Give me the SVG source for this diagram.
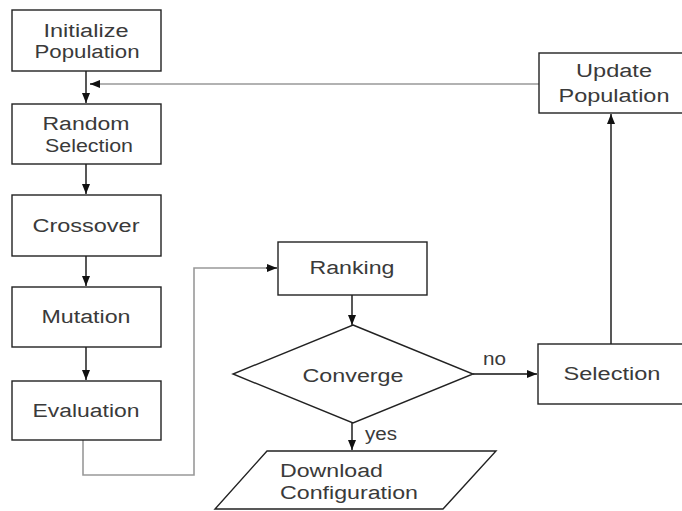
<svg xmlns="http://www.w3.org/2000/svg" width="682" height="511" viewBox="0 0 682 511">
<defs>
<marker id="ah" viewBox="0 0 10 8" refX="10" refY="4" markerWidth="10" markerHeight="8" markerUnits="userSpaceOnUse" orient="auto">
<path d="M0,0 L10,4 L0,8 Z" fill="#111"/>
</marker>
</defs>
<style>
.box{fill:#fff;stroke:#222;stroke-width:1.4}
.t{font-family:"Liberation Sans",Arial,sans-serif;font-size:18px;fill:#3a3a3a;text-anchor:middle}
.tl{font-family:"Liberation Sans",Arial,sans-serif;font-size:18px;fill:#3a3a3a}
.c{fill:none;stroke:#111;stroke-width:1.4}
.g{fill:none;stroke:#999;stroke-width:1.6}
</style>
<rect width="682" height="511" fill="#fff"/>
<g id="connectors">
<line class="c" x1="86" y1="71" x2="86" y2="103" marker-end="url(#ah)"/>
<line class="g" x1="539" y1="84" x2="98" y2="84"/>
<line class="c" x1="100" y1="84" x2="90" y2="84" marker-end="url(#ah)"/>
<line class="c" x1="86" y1="164" x2="86" y2="194" marker-end="url(#ah)"/>
<line class="c" x1="86" y1="256" x2="86" y2="286" marker-end="url(#ah)"/>
<line class="c" x1="86" y1="347" x2="86" y2="380" marker-end="url(#ah)"/>
<polyline class="g" points="83,440 83,475 194,475 194,268 268,268"/>
<line class="c" x1="266" y1="268" x2="277" y2="268" marker-end="url(#ah)"/>
<line class="c" x1="352" y1="295" x2="352" y2="325" marker-end="url(#ah)"/>
<line class="c" x1="473" y1="374" x2="537" y2="374" marker-end="url(#ah)"/>
<line class="c" x1="352" y1="423" x2="352" y2="450" marker-end="url(#ah)"/>
<line class="c" x1="611" y1="344" x2="611" y2="114" marker-end="url(#ah)"/>
<text class="tl" x="483" y="365" textLength="23" lengthAdjust="spacingAndGlyphs">no</text>
<text class="tl" x="365" y="440" textLength="32" lengthAdjust="spacingAndGlyphs">yes</text>
</g>
<g id="init">
<rect class="box" x="12" y="10" width="149" height="61"/>
<text class="t" x="86" y="37" textLength="85" lengthAdjust="spacingAndGlyphs">Initialize</text>
<text class="t" x="87" y="58" textLength="105" lengthAdjust="spacingAndGlyphs">Population</text>
</g>
<g id="random">
<rect class="box" x="12" y="104" width="149" height="60"/>
<text class="t" x="86" y="130" textLength="87" lengthAdjust="spacingAndGlyphs">Random</text>
<text class="t" x="89" y="152" textLength="88" lengthAdjust="spacingAndGlyphs">Selection</text>
</g>
<g id="crossover">
<rect class="box" x="12" y="195" width="149" height="61"/>
<text class="t" x="86" y="232" textLength="107" lengthAdjust="spacingAndGlyphs">Crossover</text>
</g>
<g id="mutation">
<rect class="box" x="12" y="287" width="149" height="60"/>
<text class="t" x="86" y="323" textLength="89" lengthAdjust="spacingAndGlyphs">Mutation</text>
</g>
<g id="evaluation">
<rect class="box" x="12" y="381" width="149" height="59"/>
<text class="t" x="86" y="417" textLength="107" lengthAdjust="spacingAndGlyphs">Evaluation</text>
</g>
<g id="ranking">
<rect class="box" x="278" y="242" width="149" height="53"/>
<text class="t" x="352" y="274" textLength="85" lengthAdjust="spacingAndGlyphs">Ranking</text>
</g>
<g id="converge">
<polygon class="box" points="353,325 473,374 353,423 233,374"/>
<text class="t" x="353" y="382" textLength="101" lengthAdjust="spacingAndGlyphs">Converge</text>
</g>
<g id="download">
<polygon class="box" points="267,451 496,451 443,509 215,509"/>
<text class="tl" x="280" y="477" textLength="103" lengthAdjust="spacingAndGlyphs">Download</text>
<text class="tl" x="280" y="499" textLength="138" lengthAdjust="spacingAndGlyphs">Configuration</text>
</g>
<g id="selection">
<rect class="box" x="538" y="344" width="150" height="60"/>
<text class="t" x="612" y="380" textLength="97" lengthAdjust="spacingAndGlyphs">Selection</text>
</g>
<g id="update">
<rect class="box" x="539" y="53" width="150" height="60"/>
<text class="t" x="614" y="77" textLength="76" lengthAdjust="spacingAndGlyphs">Update</text>
<text class="t" x="614" y="102" textLength="111" lengthAdjust="spacingAndGlyphs">Population</text>
</g>
</svg>
